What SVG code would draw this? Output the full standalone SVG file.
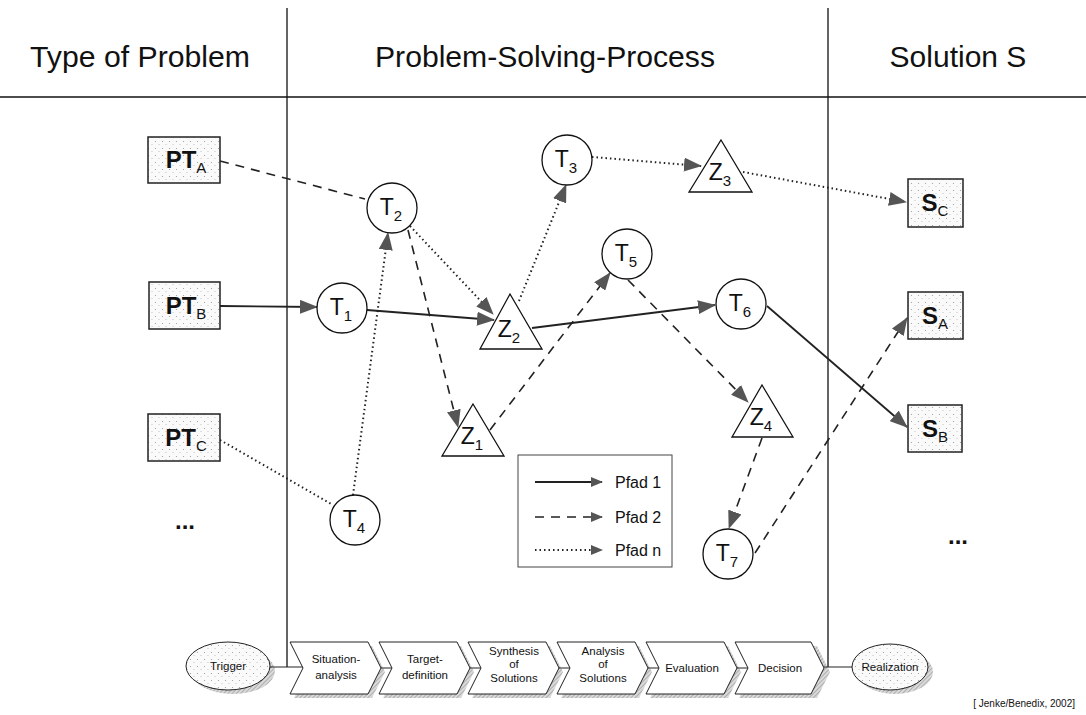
<svg xmlns="http://www.w3.org/2000/svg" width="1086" height="715" viewBox="0 0 1086 715">
  <style>
    text { font-family: "Liberation Sans", Arial, sans-serif; fill: #111; }
    .head { font-size: 30px; text-anchor: middle; }
    .lbl { font-size: 23px; text-anchor: middle; }
    .dots { font-size: 24px; font-weight: bold; text-anchor: middle; }
    .blbl { font-size: 24px; font-weight: bold; text-anchor: middle; }
    .sub { font-size: 15px; font-weight: normal; }
    .step { font-size: 11.5px; text-anchor: middle; }
    .leg { font-size: 16px; }
    .frame { stroke: #111; stroke-width: 1.3; fill: none; }
    .node { fill: #fff; stroke: #111; stroke-width: 1.3; }
    .box { fill: url(#stipple); stroke: #222; stroke-width: 1.5; }
    .p1 { stroke: #222; stroke-width: 1.8; fill: none; }
    .p2 { stroke: #222; stroke-width: 1.6; fill: none; stroke-dasharray: 9 7; }
    .pn { stroke: #222; stroke-width: 2; fill: none; stroke-dasharray: 1.5 3; }
    .chev { fill: #fff; stroke: #222; stroke-width: 1; }
    .shadow { fill: url(#hatch); stroke: none; }
  </style>
  <defs>
    <pattern id="stipple" width="7" height="7" patternUnits="userSpaceOnUse">
      <rect width="7" height="7" fill="#fafafa"/>
      <circle cx="1.5" cy="1.5" r="0.6" fill="#9a9a9a"/>
      <circle cx="5" cy="4.5" r="0.5" fill="#b0b0b0"/>
    </pattern>
    <pattern id="hatch" width="3" height="3" patternUnits="userSpaceOnUse" patternTransform="rotate(45)">
      <rect width="3" height="3" fill="#dadada"/>
      <line x1="0" y1="0" x2="0" y2="3" stroke="#888" stroke-width="1.1"/>
    </pattern>
    <marker id="ah" viewBox="0 0 18 14" refX="17" refY="7" markerWidth="18" markerHeight="14" markerUnits="userSpaceOnUse" orient="auto">
      <path d="M0,0 L18,7 L0,14 Z" fill="#555"/>
    </marker>
    <marker id="ahs" viewBox="0 0 12 10" refX="11" refY="5" markerWidth="12" markerHeight="10" markerUnits="userSpaceOnUse" orient="auto">
      <path d="M0,0 L12,5 L0,10 Z" fill="#555"/>
    </marker>
  </defs>

  <rect width="1086" height="715" fill="#fff"/>

  <!-- column frame and headings -->
  <g id="frame">
    <line class="frame" x1="0" y1="97" x2="1086" y2="97"/>
    <line class="frame" x1="287" y1="8" x2="287" y2="667"/>
    <line class="frame" x1="828" y1="8" x2="828" y2="667"/>
    <text class="head" x="140" y="67" textLength="220" lengthAdjust="spacingAndGlyphs">Type of Problem</text>
    <text class="head" x="545" y="67" textLength="340" lengthAdjust="spacingAndGlyphs">Problem-Solving-Process</text>
    <text class="head" x="958" y="67">Solution S</text>
  </g>

  <!-- connectors -->
  <g id="connectors">
    <!-- Pfad 1 (solid) -->
    <line class="p1" x1="220" y1="306" x2="317" y2="307" marker-end="url(#ah)"/>
    <line class="p1" x1="367" y1="310" x2="494" y2="320" marker-end="url(#ah)"/>
    <line class="p1" x1="532" y1="328" x2="715" y2="305" marker-end="url(#ah)"/>
    <line class="p1" x1="767" y1="306" x2="907" y2="427" marker-end="url(#ah)"/>
    <!-- Pfad 2 (dashed) -->
    <line class="p2" x1="220" y1="161" x2="365" y2="199"/>
    <line class="p2" x1="408" y1="230" x2="458" y2="427" marker-end="url(#ah)"/>
    <line class="p2" x1="490" y1="430" x2="610" y2="273" marker-end="url(#ah)"/>
    <line class="p2" x1="628" y1="280" x2="748" y2="402" marker-end="url(#ah)"/>
    <line class="p2" x1="762" y1="438" x2="729" y2="528" marker-end="url(#ah)"/>
    <line class="p2" x1="755" y1="553" x2="907" y2="318" marker-end="url(#ah)"/>
    <!-- Pfad n (dotted) -->
    <line class="pn" x1="220" y1="440" x2="333" y2="505"/>
    <line class="pn" x1="353" y1="495" x2="388" y2="233" marker-end="url(#ah)"/>
    <line class="pn" x1="410" y1="226" x2="493" y2="314" marker-end="url(#ah)"/>
    <line class="pn" x1="519" y1="301" x2="566" y2="185" marker-end="url(#ah)"/>
    <line class="pn" x1="592" y1="157" x2="701" y2="166" marker-end="url(#ah)"/>
    <line class="pn" x1="743" y1="172" x2="906" y2="202" marker-end="url(#ah)"/>
  </g>

  <!-- problem types -->
  <g id="PT_A"><rect class="box" x="148" y="137" width="72" height="46"/><text class="blbl" x="186" y="168">PT<tspan class="sub" font-size="17" dy="5">A</tspan></text></g>
  <g id="PT_B"><rect class="box" x="149" y="282" width="71" height="47"/><text class="blbl" x="186" y="314">PT<tspan class="sub" font-size="17" dy="5">B</tspan></text></g>
  <g id="PT_C"><rect class="box" x="148" y="414" width="72" height="47"/><text class="blbl" x="186" y="446">PT<tspan class="sub" font-size="17" dy="5">C</tspan></text></g>
  <g id="PT_more"><text class="dots" x="185" y="529">...</text></g>

  <!-- tasks -->
  <g id="T1"><circle class="node" cx="342" cy="308" r="25"/><text class="lbl" x="341" y="315">T<tspan class="sub" dy="6">1</tspan></text></g>
  <g id="T2"><circle class="node" cx="392" cy="208" r="25"/><text class="lbl" x="391" y="215">T<tspan class="sub" dy="6">2</tspan></text></g>
  <g id="T3"><circle class="node" cx="567" cy="160" r="25"/><text class="lbl" x="566" y="167">T<tspan class="sub" dy="6">3</tspan></text></g>
  <g id="T4"><circle class="node" cx="355" cy="520" r="25"/><text class="lbl" x="354" y="527">T<tspan class="sub" dy="6">4</tspan></text></g>
  <g id="T5"><circle class="node" cx="627" cy="254" r="25"/><text class="lbl" x="626" y="261">T<tspan class="sub" dy="6">5</tspan></text></g>
  <g id="T6"><circle class="node" cx="741" cy="304" r="25"/><text class="lbl" x="740" y="311">T<tspan class="sub" dy="6">6</tspan></text></g>
  <g id="T7"><circle class="node" cx="728" cy="554" r="25"/><text class="lbl" x="727" y="561">T<tspan class="sub" dy="6">7</tspan></text></g>

  <!-- intermediate goals -->
  <g id="Z1"><polygon class="node" points="473,404 504,456 442,456"/><text class="lbl" x="472" y="444">Z<tspan class="sub" dy="6">1</tspan></text></g>
  <g id="Z2"><polygon class="node" points="510,294 542,349 480,349"/><text class="lbl" x="509" y="337">Z<tspan class="sub" dy="6">2</tspan></text></g>
  <g id="Z3"><polygon class="node" points="721,140 752,192 689,192"/><text class="lbl" x="720" y="180">Z<tspan class="sub" dy="6">3</tspan></text></g>
  <g id="Z4"><polygon class="node" points="762,385 793,437 732,437"/><text class="lbl" x="761" y="425">Z<tspan class="sub" dy="6">4</tspan></text></g>

  <!-- solutions -->
  <g id="S_C"><rect class="box" x="908" y="179" width="55" height="48"/><text class="blbl" x="935" y="211">S<tspan class="sub" font-size="16" dy="5">C</tspan></text></g>
  <g id="S_A"><rect class="box" x="908" y="292" width="55" height="47"/><text class="blbl" x="935" y="324">S<tspan class="sub" font-size="16" dy="5">A</tspan></text></g>
  <g id="S_B"><rect class="box" x="908" y="405" width="54" height="47"/><text class="blbl" x="935" y="437">S<tspan class="sub" font-size="16" dy="5">B</tspan></text></g>
  <g id="S_more"><text class="dots" x="958" y="544">...</text></g>

  <!-- legend -->
  <g id="legend">
    <rect x="518" y="455" width="154" height="112" fill="#fff" stroke="#444" stroke-width="1"/>
    <line class="p1" x1="535" y1="482" x2="602" y2="482" stroke-width="1.2" marker-end="url(#ahs)"/>
    <line class="p2" x1="535" y1="517" x2="602" y2="517" stroke-width="1.2" stroke-dasharray="5 6" marker-end="url(#ahs)"/>
    <line class="pn" x1="535" y1="550" x2="602" y2="550" stroke-width="1.3" stroke-dasharray="1.2 2.3" marker-end="url(#ahs)"/>
    <text class="leg" x="615" y="488">Pfad 1</text>
    <text class="leg" x="615" y="523">Pfad 2</text>
    <text class="leg" x="615" y="556">Pfad n</text>
  </g>

  <!-- process chain -->
  <g id="process">
    <ellipse class="shadow" cx="233" cy="671" rx="42" ry="23"/>
    <ellipse cx="228" cy="666" rx="42" ry="24" fill="url(#stipple)" stroke="#222" stroke-width="1"/>
    <text class="step" x="228" y="670">Trigger</text>
    <line x1="270" y1="667" x2="303" y2="667" stroke="#222" stroke-width="1"/>

    <g id="step1">
      <path class="shadow" d="M294,646 H372 L385,672 L372,698 H294 L307,672 Z"/>
      <path class="chev" d="M290,642 H368 L381,668 L368,694 H290 L303,668 Z"/>
      <text class="step" x="336" y="663">Situation-</text>
      <text class="step" x="336" y="679">analysis</text>
    </g>
    <line x1="381" y1="668" x2="392" y2="668" stroke="#222" stroke-width="1"/>
    <g id="step2">
      <path class="shadow" d="M383,646 H461 L474,672 L461,698 H383 L396,672 Z"/>
      <path class="chev" d="M379,642 H457 L470,668 L457,694 H379 L392,668 Z"/>
      <text class="step" x="425" y="663">Target-</text>
      <text class="step" x="425" y="679">definition</text>
    </g>
    <line x1="470" y1="668" x2="481" y2="668" stroke="#222" stroke-width="1"/>
    <g id="step3">
      <path class="shadow" d="M472,646 H550 L563,672 L550,698 H472 L485,672 Z"/>
      <path class="chev" d="M468,642 H546 L559,668 L546,694 H468 L481,668 Z"/>
      <text class="step" x="514" y="655">Synthesis</text>
      <text class="step" x="514" y="668">of</text>
      <text class="step" x="514" y="682">Solutions</text>
    </g>
    <line x1="559" y1="668" x2="570" y2="668" stroke="#222" stroke-width="1"/>
    <g id="step4">
      <path class="shadow" d="M561,646 H639 L652,672 L639,698 H561 L574,672 Z"/>
      <path class="chev" d="M557,642 H635 L648,668 L635,694 H557 L570,668 Z"/>
      <text class="step" x="603" y="655">Analysis</text>
      <text class="step" x="603" y="668">of</text>
      <text class="step" x="603" y="682">Solutions</text>
    </g>
    <line x1="648" y1="668" x2="659" y2="668" stroke="#222" stroke-width="1"/>
    <g id="step5">
      <path class="shadow" d="M650,646 H728 L741,672 L728,698 H650 L663,672 Z"/>
      <path class="chev" d="M646,642 H724 L737,668 L724,694 H646 L659,668 Z"/>
      <text class="step" x="692" y="672">Evaluation</text>
    </g>
    <line x1="737" y1="668" x2="748" y2="668" stroke="#222" stroke-width="1"/>
    <g id="step6">
      <path class="shadow" d="M739,646 H817 L830,672 L817,698 H739 L752,672 Z"/>
      <path class="chev" d="M735,642 H811 L824,668 L811,694 H735 L748,668 Z"/>
      <text class="step" x="780" y="672">Decision</text>
    </g>
    <line x1="824" y1="667" x2="852" y2="667" stroke="#222" stroke-width="1"/>

    <ellipse class="shadow" cx="895" cy="672" rx="38" ry="22"/>
    <ellipse cx="890" cy="667" rx="38" ry="23" fill="url(#stipple)" stroke="#222" stroke-width="1"/>
    <text class="step" x="890" y="671">Realization</text>
  </g>

  <text x="1075" y="707" font-size="10" text-anchor="end">[ Jenke/Benedix, 2002]</text>
</svg>
